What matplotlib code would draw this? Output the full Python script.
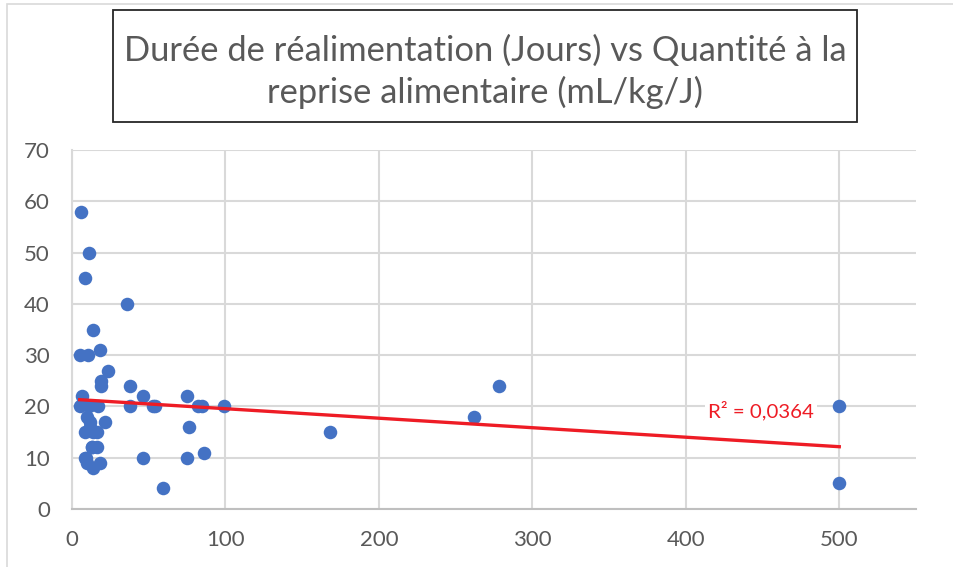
import numpy as np
import matplotlib
matplotlib.use('Agg')
import matplotlib.pyplot as plt
from matplotlib.patches import Rectangle

# quantite a la reprise alimentaire (mL/kg/J) vs duree de realimentation (jours)
quantite = [6, 11, 8.5, 36, 13.5, 5, 10.5, 18, 23.5, 19, 19, 38, 46, 6.5,
            5.5, 11, 17, 38, 53, 54, 10, 12, 21.5, 8.5, 14, 12, 16, 13,
            8.5, 18, 14, 46, 59, 75, 76, 82, 85, 99, 75, 86, 168, 262,
            278, 500, 500, 9, 13, 16, 10]
duree = [58, 50, 45, 40, 35, 30, 30, 31, 27, 25, 24, 24, 22, 22,
         20, 20, 20, 20, 20, 20, 18, 17, 17, 15, 15, 16, 12, 12,
         10, 9, 8, 10, 4, 22, 16, 20, 20, 20, 10, 11, 15, 18,
         24, 20, 5, 10, 12, 15, 9]
r2_label = 'R² = 0,0364'
titre = 'Durée de réalimentation (Jours) vs Quantité à la\nreprise alimentaire (mL/kg/J)'

W, H = 954, 567
fig = plt.figure(figsize=(W / 100, H / 100), dpi=100)
plt.rcParams['font.family'] = ['Lato', 'DejaVu Sans']

# chart border (partly cropped)
fig.patches.append(Rectangle((7 / W, -0.1), 1.2, 1 - 4 / H + 0.1, transform=fig.transFigure,
                             fill=False, edgecolor='#d9d9d9', lw=1.2))

ax = fig.add_axes([72 / W, 1 - 509 / H, (916 - 72) / W, (509 - 150) / H])
ax.set_xlim(0, 550)
ax.set_ylim(0, 70)
ax.set_xticks(np.arange(0, 501, 100))
ax.set_yticks(np.arange(0, 71, 10))
ax.grid(True, color='#d9d9d9', lw=1.5)
ax.set_axisbelow(True)
for s in ['top', 'right']:
    ax.spines[s].set_visible(False)
ax.spines['left'].set_color('#d9d9d9')
ax.spines['left'].set_linewidth(1.5)
ax.spines['bottom'].set_color('#bfbfbf')
ax.spines['bottom'].set_linewidth(1.5)
ax.tick_params(length=0, labelsize=16, labelcolor='#595959')
ax.tick_params(axis='y', pad=16)
ax.tick_params(axis='x', pad=15)

ax.scatter(quantite, duree, s=95, color='#4472c4', zorder=3, linewidths=0)

# linear trendline
x = np.array(quantite, dtype=float)
y = np.array(duree, dtype=float)
a, b = np.polyfit(x, y, 1)
xl = np.array([x.min(), x.max()])
ax.plot(xl, a * xl + b, color='#ee1c25', lw=2.4, zorder=4)
ax.text(449, 19.1, r2_label, color='#ee1c25', fontsize=14.7, ha='center', va='center', zorder=5,
        bbox=dict(facecolor='white', edgecolor='none', pad=2))

# title box
fig.patches.append(Rectangle((113 / W, 1 - 122 / H), (857 - 113) / W, (122 - 10) / H,
                             transform=fig.transFigure, fill=True, facecolor='white',
                             edgecolor='#262626', lw=1.3))
fig.text(485 / W, 1 - 72 / H, titre, ha='center', va='center', fontsize=24.8,
         color='#595959', linespacing=1.35)

fig.savefig('out.png', dpi=100)
